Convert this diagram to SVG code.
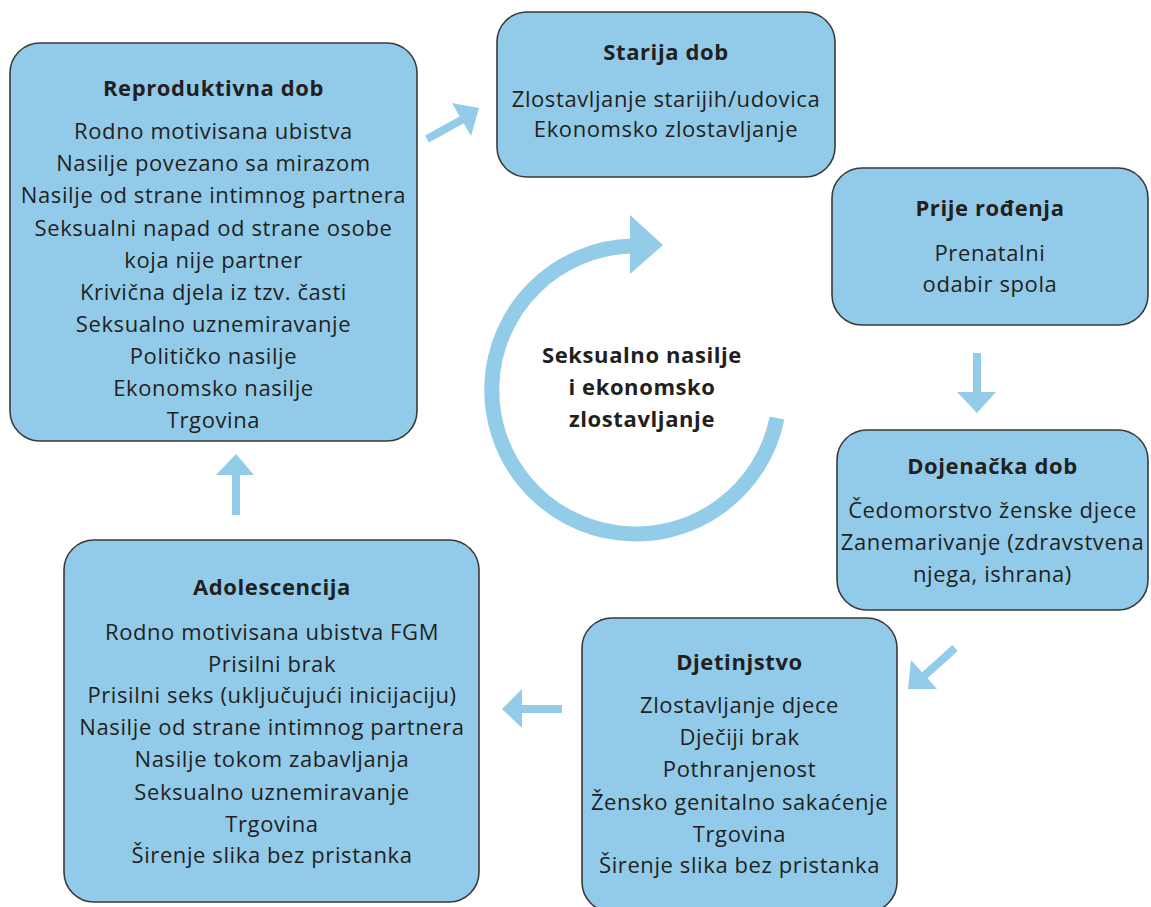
<svg xmlns="http://www.w3.org/2000/svg" width="1151" height="907" viewBox="0 0 1151 907">
  <style>
    .box { fill: #92cbe9; stroke: #3a3a3a; stroke-width: 1.6; }
    .title { font-family: "Open Sans", "Noto Sans", sans-serif; font-weight: bold; font-size: 22px; letter-spacing: 0.6px; fill: #231f20; text-anchor: middle; }
    .body { font-family: "Open Sans", "Noto Sans", sans-serif; font-size: 22px; letter-spacing: 0.6px; fill: #231f20; text-anchor: middle; }
    .arrow { fill: #93cce9; }
    .shaft { stroke: #93cce9; stroke-width: 8; fill: none; }
  </style>

  <!-- connectors: lifecycle arrows and the central cycle -->
  <g id="connectors">
    <!-- Reproduktivna dob -> Starija dob -->
    <line class="shaft" x1="427" y1="139" x2="465" y2="118"/>
    <polygon class="arrow" points="452,103 479,108 471,136"/>
    <!-- Prije rođenja -> Dojenačka dob -->
    <line class="shaft" x1="977" y1="353" x2="977" y2="394"/>
    <polygon class="arrow" points="957,392 996,392 977,413"/>
    <!-- Dojenačka dob -> Djetinjstvo -->
    <line class="shaft" x1="955" y1="648" x2="924" y2="676"/>
    <polygon class="arrow" points="911,660 937,689 908,689"/>
    <!-- Djetinjstvo -> Adolescencija -->
    <line class="shaft" x1="562" y1="709" x2="520" y2="709"/>
    <polygon class="arrow" points="522,689 522,728 502,709"/>
    <!-- Adolescencija -> Reproduktivna dob -->
    <line class="shaft" x1="236" y1="515" x2="236" y2="473"/>
    <polygon class="arrow" points="216,475 254,475 236,454"/>
    <!-- central cycle -->
    <path d="M 777 418 A 144 144 0 1 1 632 246" fill="none" stroke="#93cce9" stroke-width="15"/>
    <polygon class="arrow" points="630,215 663,245 630,274"/>
  </g>

  <g id="center-label">
    <text class="title" x="642" y="363">Seksualno nasilje</text>
    <text class="title" x="642" y="395">i ekonomsko</text>
    <text class="title" x="642" y="427">zlostavljanje</text>
  </g>

  <g id="reproduktivna-dob">
    <rect class="box" x="10" y="43" width="407" height="398" rx="30"/>
    <text class="title" x="213.5" y="96">Reproduktivna dob</text>
    <text class="body" x="213.5" y="139">Rodno motivisana ubistva</text>
    <text class="body" x="213.5" y="171">Nasilje povezano sa mirazom</text>
    <text class="body" x="213.5" y="203">Nasilje od strane intimnog partnera</text>
    <text class="body" x="213.5" y="236">Seksualni napad od strane osobe</text>
    <text class="body" x="213.5" y="268">koja nije partner</text>
    <text class="body" x="213.5" y="300">Krivična djela iz tzv. časti</text>
    <text class="body" x="213.5" y="332">Seksualno uznemiravanje</text>
    <text class="body" x="213.5" y="364">Političko nasilje</text>
    <text class="body" x="213.5" y="396">Ekonomsko nasilje</text>
    <text class="body" x="213.5" y="428">Trgovina</text>
  </g>

  <g id="starija-dob">
    <rect class="box" x="497" y="12" width="338" height="165" rx="30"/>
    <text class="title" x="666" y="60">Starija dob</text>
    <text class="body" x="666" y="107">Zlostavljanje starijih/udovica</text>
    <text class="body" x="666" y="137">Ekonomsko zlostavljanje</text>
  </g>

  <g id="prije-rodjenja">
    <rect class="box" x="832" y="168" width="316" height="157" rx="30"/>
    <text class="title" x="990" y="216">Prije rođenja</text>
    <text class="body" x="990" y="261">Prenatalni</text>
    <text class="body" x="990" y="292">odabir spola</text>
  </g>

  <g id="dojenacka-dob">
    <rect class="box" x="837" y="430" width="311" height="180" rx="30"/>
    <text class="title" x="992.5" y="474">Dojenačka dob</text>
    <text class="body" x="992.5" y="518">Čedomorstvo ženske djece</text>
    <text class="body" x="992.5" y="550">Zanemarivanje (zdravstvena</text>
    <text class="body" x="992.5" y="582">njega, ishrana)</text>
  </g>

  <g id="djetinjstvo">
    <rect class="box" x="582" y="618" width="315" height="294" rx="30"/>
    <text class="title" x="739.5" y="670">Djetinjstvo</text>
    <text class="body" x="739.5" y="713">Zlostavljanje djece</text>
    <text class="body" x="739.5" y="745">Dječiji brak</text>
    <text class="body" x="739.5" y="777">Pothranjenost</text>
    <text class="body" x="739.5" y="810">Žensko genitalno sakaćenje</text>
    <text class="body" x="739.5" y="842">Trgovina</text>
    <text class="body" x="739.5" y="873">Širenje slika bez pristanka</text>
  </g>

  <g id="adolescencija">
    <rect class="box" x="64" y="540" width="415" height="362" rx="30"/>
    <text class="title" x="272" y="595">Adolescencija</text>
    <text class="body" x="272" y="640">Rodno motivisana ubistva FGM</text>
    <text class="body" x="272" y="672">Prisilni brak</text>
    <text class="body" x="272" y="703">Prisilni seks (uključujući inicijaciju)</text>
    <text class="body" x="272" y="735">Nasilje od strane intimnog partnera</text>
    <text class="body" x="272" y="767">Nasilje tokom zabavljanja</text>
    <text class="body" x="272" y="800">Seksualno uznemiravanje</text>
    <text class="body" x="272" y="832">Trgovina</text>
    <text class="body" x="272" y="863">Širenje slika bez pristanka</text>
  </g>
</svg>
